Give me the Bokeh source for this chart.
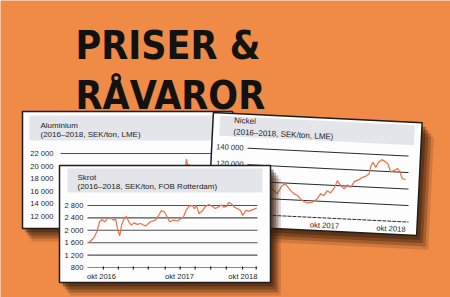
import math
from bokeh.plotting import figure
from bokeh.models import Range1d, ColumnDataSource, CustomJSTransform
from bokeh.transform import transform
from bokeh.core.properties import value
from bokeh.embed import file_html
from bokeh.resources import INLINE

# ------------------------------------------------------------------ data
title_lines = ["PRISER &", "RÅVAROR"]

alu_title = "Aluminium"
alu_sub = "(2016–2018, SEK/ton, LME)"
alu_ticks = [22000, 20000, 18000, 16000, 14000, 12000]
alu_tick_labels = ["22 000", "20 000", "18 000", "16 000", "14 000", "12 000"]
# months counted from Jan 2016 (= 0)
alu_month = [7, 8, 9, 10, 11, 12, 13, 14, 15, 16, 17, 18, 19, 20, 21, 22, 23, 24, 25, 26,
             27, 27.3, 27.5, 27.7, 27.9, 28.1, 28.5, 29, 30, 31, 32, 33]
alu_value = [13600, 13900, 14300, 14800, 15300, 15000, 15600, 16100, 16600, 16200, 15900,
             16400, 16800, 17200, 17500, 17900, 18400, 18100, 17700, 17900, 18300, 19600,
             21100, 19800, 20300, 19700, 19200, 18900, 18700, 18400, 18200, 18500]

nickel_title = "Nickel"
nickel_sub = "(2016–2018, SEK/ton, LME)"
nickel_ticks = [140000, 120000, 100000, 80000]
nickel_tick_labels = ["140 000", "120 000", "100 000", "80 000"]
nickel_axis_value = [60000]
nickel_month = [8.0, 9.0, 10.0, 11.0, 12.0, 13.0, 14.0, 14.7, 15.2, 16.0, 16.5, 17.0, 17.7,
                18.4, 19.2, 19.9, 20.4, 20.9, 21.4, 21.9, 22.5, 22.9, 23.4, 23.9, 24.4, 24.9,
                25.4, 26.1, 26.6, 27.1, 27.6, 27.9, 28.2, 28.6, 29.0, 29.5, 30.0, 30.4, 30.8,
                31.3, 31.8, 32.2, 32.5, 33.0]
nickel_value = [82000, 88000, 92000, 97000, 91000, 94000, 86400, 96700, 99000, 91200, 87400,
                85600, 79800, 77200, 78300, 82700, 89000, 87000, 93300, 90700, 97700, 106000,
                100100, 96400, 101300, 98700, 105800, 108500, 111500, 112900, 116000, 126200,
                130300, 124400, 130700, 134100, 131900, 129200, 120000, 121500, 124400, 119800,
                112600, 111200]
nickel_xtick_month = [21, 33]
nickel_xtick_labels = ["okt 2017", "okt 2018"]

skrot_title = "Skrot"
skrot_sub = "(2016–2018, SEK/ton, FOB Rotterdam)"
skrot_ticks = [2800, 2400, 2000, 1600, 1200]
skrot_tick_labels = ["2 800", "2 400", "2 000", "1 600", "1 200"]
skrot_axis_value = 800
skrot_axis_label = "800"
skrot_month = [7.0, 7.8, 8.3, 8.7, 9.1, 9.5, 9.9, 10.4, 10.8, 11.2, 11.5, 11.8, 12.1, 12.5,
               12.8, 13.2, 13.6, 14.0, 14.5, 15.0, 15.8, 16.5, 17.3, 17.8, 18.2, 18.7, 19.1,
               19.5, 20.1, 20.7, 21.2, 21.6, 22.0, 22.5, 23.0, 23.3, 23.6, 24.0, 24.5, 24.9,
               25.5, 26.0, 26.5, 27.1, 27.5, 27.8, 28.2, 28.6, 29.0, 29.4, 29.9, 30.4, 30.7,
               31.2, 31.7, 32.2, 32.9]
skrot_value = [1590, 1750, 1960, 2275, 2350, 2275, 2380, 2410, 2330, 2350, 2010, 1820, 2170,
               2380, 2450, 2275, 2170, 2240, 2190, 2220, 2140, 2275, 2330, 2480, 2640, 2590,
               2430, 2275, 2330, 2300, 2380, 2430, 2640, 2780, 2800, 2700, 2800, 2540, 2620,
               2750, 2830, 2780, 2700, 2770, 2820, 2750, 2770, 2900, 2850, 2750, 2700, 2640,
               2480, 2640, 2620, 2660, 2720]
skrot_minor_ticks = [9.3, 11.6, 13.9, 16.2, 18.8, 21.1, 23.4, 25.8, 28.2, 30.7, 32.8]
skrot_xtick_month = [9, 21, 33]
skrot_xtick_labels = ["okt 2016", "okt 2017", "okt 2018"]

# ------------------------------------------------------------------ style
W, H = 450, 297
BG = "#EF8A47"
INK = "#1d1d1d"
CARD = "#FDFDFD"
BAND = "#E3E5EB"
SERIES = "#E8704A"
GRID = "#505050"
SHADOW = "#3a1e0a"
SANS = value("Liberation Sans")
FS = "7.6px"


def lin_range(pa, va, pb, vb, p_start, p_end):
    k = (vb - va) / (pb - pa)
    return Range1d(start=va + (p_start - pa) * k, end=va + (p_end - pa) * k)


p = figure(width=W, height=H, x_range=Range1d(0, W), y_range=Range1d(H, 0),
           x_axis_type=None, y_axis_type=None, output_backend="svg",
           toolbar_location=None, min_border=0, background_fill_color=BG,
           border_fill_color=BG, outline_line_color=None)

# nickel chart frame (unrotated), later tilted
NI_TOP, NI_BOT = 151, 217          # pixel rows of 140 000 and 60 000
NI_KY = (NI_BOT - NI_TOP) / (140000 - 60000)
NI_PX0, NI_M0, NI_KX = 324.0, 21.0, 6.75

p.extra_x_ranges = {
    "alu_x": lin_range(62, 7, 186, 27.5, 0, W),
    "ni_x": lin_range(NI_PX0, NI_M0, NI_PX0 + 12 * NI_KX, NI_M0 + 12, 0, W),
    "sk_x": lin_range(88, 7, 257, 33, 0, W),
}
p.extra_y_ranges = {
    "alu_y": lin_range(153, 22000, 216, 12000, H, 0),
    "ni_y": lin_range(NI_TOP, 140000, NI_BOT, 60000, H, 0),
    "sk_y": lin_range(205, 2800, 267, 800, H, 0),
}

# tilt of the nickel card
NI_CX, NI_CY = 314.5, 173.5
NI_TH = math.radians(2.8)
NI_S = math.tan(NI_TH)


def rot(x, y):
    dx, dy = x - NI_CX, y - NI_CY
    c, s = math.cos(NI_TH), math.sin(NI_TH)
    return NI_CX + dx * c - dy * s, NI_CY + dx * s + dy * c


def rot_box(box, ox=0.0, oy=0.0):
    x0, y0, x1, y1 = box
    pts = [rot(x0, y0), rot(x1, y0), rot(x1, y1), rot(x0, y1)]
    return [q[0] + ox for q in pts], [q[1] + oy for q in pts]


FIX_CODE = """
const out = new Array(xs.length);
for (let i = 0; i < xs.length; i++) { out[i] = xs[i] + s * (xfix - cx) * f; }
return out;
"""
SRC_CODE = """
const mx = src.data[col];
const out = new Array(xs.length);
for (let i = 0; i < xs.length; i++) {
  const xp = px0 + (mx[i] - m0) * kx;
  out[i] = xs[i] + s * (xp - cx) * f;
}
return out;
"""


def shear_fixed(f, xfix):
    return CustomJSTransform(args=dict(xfix=float(xfix), s=NI_S, cx=NI_CX, f=float(f)),
                             v_func=FIX_CODE)


def shear_src(f, src, col="x"):
    return CustomJSTransform(args=dict(src=src, col=col, px0=NI_PX0, m0=NI_M0, kx=NI_KX,
                                       s=NI_S, cx=NI_CX, f=float(f)), v_func=SRC_CODE)


F_VAL = -1.0 / NI_KY   # pixel shift -> nickel value shift
F_PIX = 1.0


def shadow(box, dx, dy):
    x0, y0, x1, y1 = box
    for f, a in [(1.3, 0.16), (1.0, 0.28), (0.7, 0.35), (0.4, 0.45)]:
        p.quad(left=x0 + dx * f, right=x1 + dx * f, top=y0 + dy * f, bottom=y1 + dy * f,
               fill_color=SHADOW, fill_alpha=a, line_color=None)


def card(box, band):
    x0, y0, x1, y1 = box
    p.quad(left=x0, right=x1, top=y0, bottom=y1, fill_color=CARD,
           line_color=INK, line_width=1.5)
    bx0, by0, bx1, by1 = band
    p.quad(left=bx0, right=bx1, top=by0, bottom=by1, fill_color=BAND, line_color=None)


def header(x, y0, y1, title, sub):
    p.text(x=x, y=[y0, y1], text=[title, sub], text_font=SANS, text_font_size="8px",
           text_baseline="middle", text_align="left", text_color=INK)


# ------------------------------------------------------------------ big title
p.text(x=75, y=[44.5, 95], text=title_lines, text_font=value("DejaVu Sans Condensed"),
       text_font_size="39px", text_font_style="bold", text_color="#121212",
       text_baseline="alphabetic", text_align="left")

# ------------------------------------------------------------------ aluminium card
ALU_BOX = (22, 111, 232, 228)
shadow(ALU_BOX, 7, 10)
card(ALU_BOX, (29, 115, 232, 140))
header(40, 125, 133.5, alu_title, alu_sub)
p.text(x=53, y=alu_ticks, text=alu_tick_labels, y_range_name="alu_y", text_font=SANS,
       text_font_size=FS, text_align="right", text_baseline="middle", text_color=INK)
p.segment(x0=60, x1=225, y0=alu_ticks, y1=alu_ticks, y_range_name="alu_y",
          line_color=GRID, line_width=1)
p.line(x=alu_month, y=alu_value, x_range_name="alu_x", y_range_name="alu_y",
       line_color=SERIES, line_width=1.2)

# ------------------------------------------------------------------ nickel card (tilted)
NI_BOX = (210, 117, 419, 230)
NI_BAND = (217, 120, 412, 140)
for f, a in [(1.3, 0.16), (1.0, 0.28), (0.7, 0.35), (0.4, 0.45)]:
    xs, ys = rot_box(NI_BOX, 9 * f, 11 * f)
    p.patch(x=xs, y=ys, fill_color=SHADOW, fill_alpha=a, line_color=None)
xs, ys = rot_box(NI_BOX)
p.patch(x=xs, y=ys, fill_color=CARD, line_color=INK, line_width=1.5)
xs, ys = rot_box(NI_BAND)
p.patch(x=xs, y=ys, fill_color=BAND, line_color=None)
hx, hy = zip(rot(231, 124), rot(231, 135.5))
p.text(x=list(hx), y=list(hy), text=[nickel_title, nickel_sub], angle=-NI_TH,
       text_font=SANS, text_font_size="8px", text_baseline="middle", text_align="left",
       text_color=INK)

ni_lab = ColumnDataSource(dict(y=nickel_ticks, text=nickel_tick_labels))
p.text(x=243, y=transform("y", shear_fixed(F_VAL, 243)), text="text", source=ni_lab,
       angle=-NI_TH, y_range_name="ni_y", text_font=SANS, text_font_size=FS,
       text_align="right", text_baseline="middle", text_color=INK)
ni_grid = ColumnDataSource(dict(y=nickel_ticks))
p.segment(x0=247, x1=408, y0=transform("y", shear_fixed(F_VAL, 247)),
          y1=transform("y", shear_fixed(F_VAL, 408)), source=ni_grid, y_range_name="ni_y",
          line_color="#2a2a2a", line_width=1)
ni_axis = ColumnDataSource(dict(y=nickel_axis_value))
p.segment(x0=247, x1=408, y0=transform("y", shear_fixed(F_VAL, 247)),
          y1=transform("y", shear_fixed(F_VAL, 408)), source=ni_axis, y_range_name="ni_y",
          line_color="#2a2a2a", line_width=1, line_dash="4 1")
for sl, align in [(slice(0, 1), "center"), (slice(1, 2), "right")]:
    src = ColumnDataSource(dict(x=nickel_xtick_month[sl], y=[224.5] * len(nickel_xtick_month[sl]),
                                text=nickel_xtick_labels[sl]))
    p.text(x="x", y=transform("y", shear_src(F_PIX, src)), text="text", source=src,
           angle=-NI_TH, x_range_name="ni_x", text_font=SANS, text_font_size=FS,
           text_align=align, text_baseline="middle", text_color=INK)
ni_src = ColumnDataSource(dict(x=nickel_month, y=nickel_value))
p.line(x="x", y=transform("y", shear_src(F_VAL, ni_src)), source=ni_src,
       x_range_name="ni_x", y_range_name="ni_y", line_color=SERIES, line_width=1.2)

# ------------------------------------------------------------------ skrot card
SK_BOX = (59, 165, 270, 282)
shadow(SK_BOX, 8, 10)
card(SK_BOX, (67, 168, 262, 192))
header(77, 177, 185.5, skrot_title, skrot_sub)
p.text(x=83, y=skrot_ticks + [skrot_axis_value], text=skrot_tick_labels + [skrot_axis_label],
       y_range_name="sk_y", text_font=SANS, text_font_size=FS, text_align="right",
       text_baseline="middle", text_color=INK)
p.segment(x0=87, x1=257, y0=skrot_ticks, y1=skrot_ticks, y_range_name="sk_y",
          line_color=GRID, line_width=1.1)
p.segment(x0=87, x1=257, y0=skrot_axis_value, y1=skrot_axis_value, y_range_name="sk_y",
          line_color="#8a8a8a", line_width=1)
p.segment(x0=skrot_minor_ticks, x1=skrot_minor_ticks, y0=266, y1=269, x_range_name="sk_x",
          line_color=INK, line_width=1.2)
p.text(x=skrot_xtick_month[:2], y=276, text=skrot_xtick_labels[:2], x_range_name="sk_x",
       text_font=SANS, text_font_size=FS, text_align="center", text_baseline="middle",
       text_color=INK)
p.text(x=skrot_xtick_month[2:], y=276, text=skrot_xtick_labels[2:], x_range_name="sk_x",
       text_font=SANS, text_font_size=FS, text_align="right", text_baseline="middle",
       text_color=INK)
p.line(x=skrot_month, y=skrot_value, x_range_name="sk_x", y_range_name="sk_y",
       line_color=SERIES, line_width=1.2)

open("out.html", "w").write(file_html(p, INLINE))
